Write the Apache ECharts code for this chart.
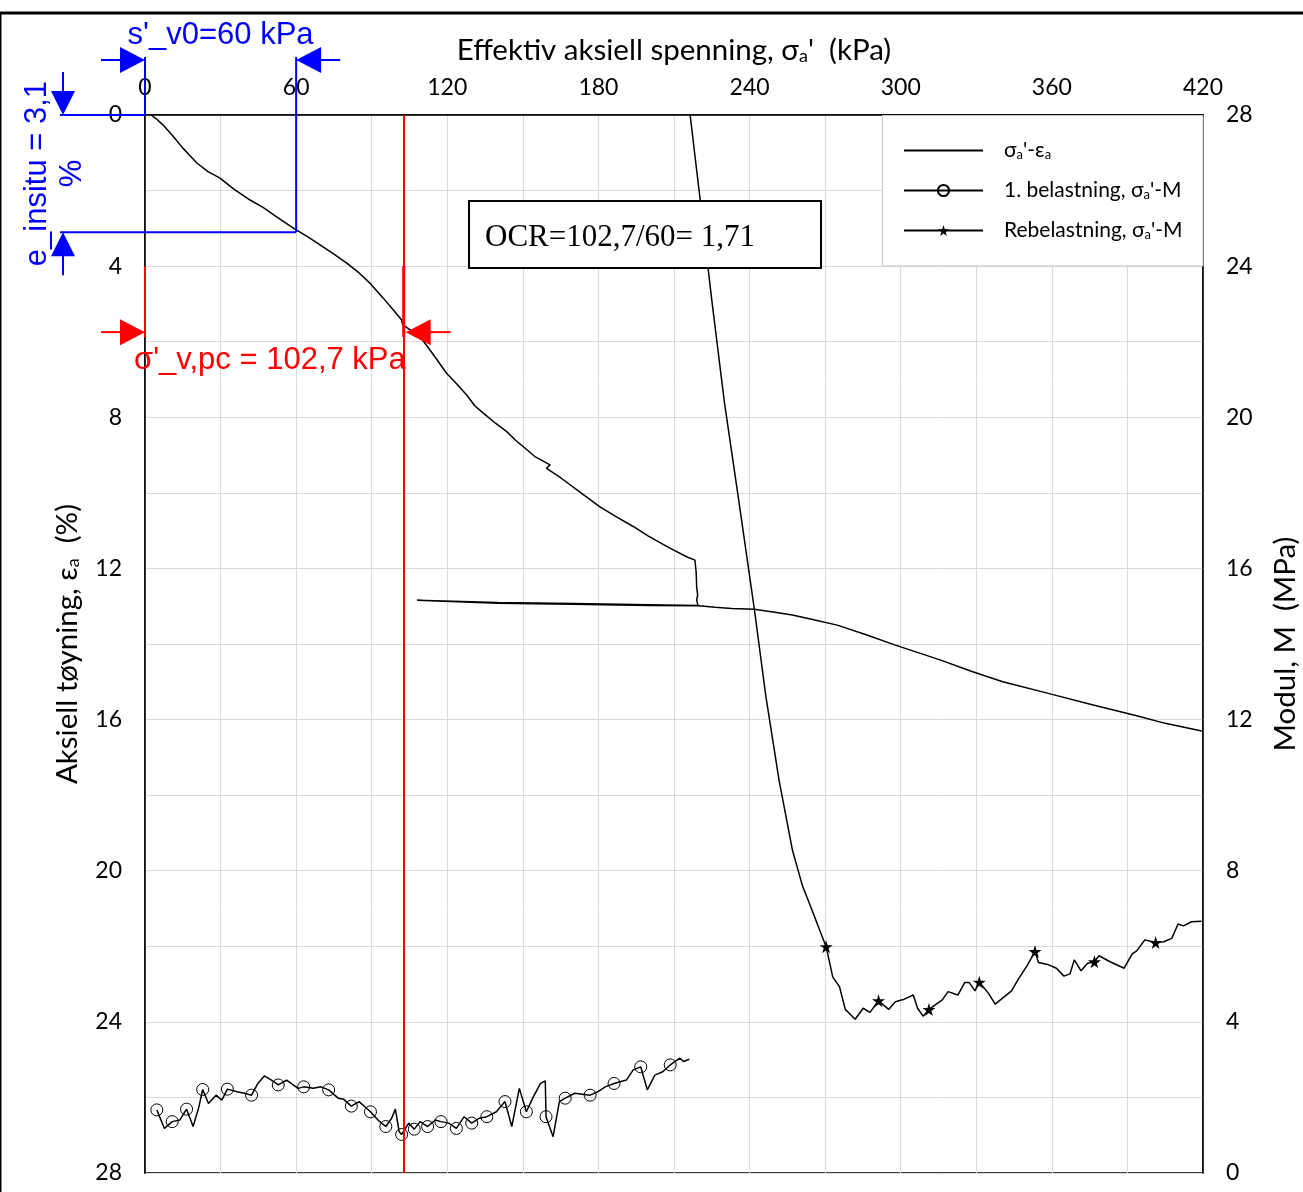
<!DOCTYPE html>
<html>
<head>
<meta charset="utf-8">
<script src="https://cdn.jsdelivr.net/npm/echarts@6/dist/echarts.min.js"></script>
<style>
  html, body { margin: 0; padding: 0; background: #fff; }
  #c { width: 1303px; height: 1192px; }
</style>
</head>
<body>
<div id="c"></div>
<script>
// Ødometerforsøk: effektiv aksiell spenning (kPa) mot aksiell tøyning (%)
const ssStress = [2.4, 4.5, 7.1, 11, 14.7, 17.5, 20.6, 25, 29.8, 35,
  41.7, 47, 52.4, 59.5, 64.5, 69.5, 75, 80.1, 85, 89.3,
  94.5, 98.6, 101.8, 102.3, 105.5, 109.2, 114, 119.8, 123.5, 127.7,
  131, 134.3, 139, 143.6, 147, 150.2, 155, 160.8, 159.4, 165,
  172, 180.6, 187, 193.8, 200, 208, 215.0, 218.3, 218.8, 219.0,
  219.4, 219.0, 219.5, 200, 170, 140, 108.0, 108.5, 140, 170,
  200, 219.8, 226.3, 233, 241.9, 250, 257.0, 265, 274.8, 286,
  297.9, 315.6, 328, 340.5, 358.2, 376.0, 393.7, 405, 419.5];
const ssStrain = [0, 0.1, 0.26, 0.55, 0.85, 1.05, 1.27, 1.5, 1.67, 1.95,
  2.25, 2.45, 2.70, 3.02, 3.22, 3.44, 3.68, 3.92, 4.18, 4.45,
  4.84, 5.16, 5.42, 5.55, 5.7, 5.87, 6.3, 6.84, 7.1, 7.41,
  7.7, 7.89, 8.15, 8.38, 8.6, 8.78, 9.05, 9.26, 9.35, 9.6,
  9.95, 10.37, 10.63, 10.89, 11.15, 11.45, 11.69, 11.78, 12.1, 12.5,
  12.7, 12.83, 12.98, 12.96, 12.93, 12.9, 12.84, 12.87, 12.92, 12.95,
  12.98, 12.99, 13.03, 13.06, 13.08, 13.16, 13.23, 13.35, 13.50, 13.75,
  14.03, 14.42, 14.72, 15.0, 15.30, 15.61, 15.90, 16.1, 16.30];

// 1. belastning: modul M (MPa)
const loadStress = [4.7, 7.7, 10.8, 13.8, 16.5, 19.1, 21.4, 22.9, 25.2, 28.2,
  30.5, 32.7, 36.5, 39.5, 42.3, 44.8, 47.4, 50.2, 52.9, 56.2,
  60.8, 63.0, 66.8, 69.8, 72.9, 76.7, 78.9, 81.9, 85.0, 89.5,
  92.5, 95.6, 97.9, 99.4, 100.9, 101.9, 104.7, 106.9, 109.2, 112.2,
  115.2, 117.5, 120.6, 123.6, 126.7, 129.7, 132.7, 135.7, 139.5, 142.9,
  145.6, 148.6, 151.4, 153.9, 157.0, 158.9, 159.2, 162.0, 164.5, 166.8,
  170.6, 176.7, 179.7, 182.7, 186.2, 191.1, 193.8, 196.8, 199.4, 202.4,
  205.5, 208.5, 212.3, 213.8, 216.1];
const loadModulus = [1.67, 1.18, 1.36, 1.40, 1.69, 1.23, 1.75, 2.21, 1.84, 2.06,
  1.93, 2.22, 2.15, 2.11, 2.06, 2.37, 2.57, 2.46, 2.33, 2.46,
  2.24, 2.28, 2.24, 2.28, 2.20, 1.98, 1.95, 1.77, 1.89, 1.62,
  1.40, 1.23, 1.45, 1.69, 1.09, 1.02, 1.32, 1.16, 1.36, 1.23,
  1.40, 1.36, 1.32, 1.18, 1.49, 1.32, 1.45, 1.49, 1.62, 1.89,
  1.23, 2.24, 1.62, 1.98, 2.37, 2.44, 1.49, 0.96, 1.89, 1.98,
  2.11, 2.06, 2.15, 2.28, 2.37, 2.46, 2.73, 2.81, 2.20, 2.59,
  2.68, 2.86, 3.04, 2.95, 3.01];
const loadMarkers = [0, 2, 4, 7, 11, 14, 18, 21, 24, 27, 29, 31, 35, 37, 39, 41,
  43, 45, 47, 49, 52, 56, 59, 61, 64, 67, 71];

// Rebelastning: modul M (MPa)
const reloadStress = [216.4, 220.4, 225.0, 230, 235.7, 241.9, 246.5, 251.7, 257.0, 261,
  265.0, 268, 270.4, 273.0, 275.7, 278.0, 281.9, 285.1, 287.8, 291.2,
  295.2, 297.9, 301.4, 305.0, 306.7, 308.9, 311.2, 316.5, 318.8, 322.7,
  325.4, 327.2, 329.5, 331.2, 334.8, 337.5, 344.0, 346.7, 350.3, 353.3,
  354.7, 358.3, 361.8, 364.8, 367.2, 368.9, 371.6, 374.2, 376.9, 378.7,
  383.1, 388.7, 391.9, 393.7, 396.9, 401.2, 404.4, 407.6, 410.1, 412.3,
  415.4, 419.4];
const reloadModulus = [28, 25.75, 23.1, 20.4, 17.8, 14.92, 12.6, 10.4, 8.55, 7.6,
  6.92, 6.4, 5.99, 5.19, 4.93, 4.33, 4.07, 4.36, 4.25, 4.56,
  4.33, 4.53, 4.60, 4.71, 4.36, 4.15, 4.33, 4.58, 4.80, 4.71,
  5.04, 5.04, 4.82, 5.05, 4.76, 4.47, 4.82, 5.13, 5.50, 5.86,
  5.57, 5.52, 5.42, 5.21, 5.27, 5.64, 5.35, 5.55, 5.59, 5.75,
  5.59, 5.42, 5.80, 5.88, 6.17, 6.10, 6.12, 6.21, 6.59, 6.54,
  6.65, 6.66];
const reloadMarkers = [12, 19, 26, 33, 39, 48, 55];

// Aksemerker
const stressTicks = [0, 60, 120, 180, 240, 300, 360, 420];
const strainTicks = [0, 4, 8, 12, 16, 20, 24, 28];
const modulusTicks = [0, 4, 8, 12, 16, 20, 24, 28];

// Tolkning
const sigmaV0 = 60;       // kPa
const sigmaPc = 102.7;    // kPa
const epsInsitu = 3.1;    // %

const nameSS = "σa'-εa";
const nameLoad = "1. belastning, σa'-M";
const nameReload = "Rebelastning, σa'-M";
const legendRich = {};
legendRich[nameSS] = "σ{s|a}'-ε{s|a}";
legendRich[nameLoad] = "1. belastning, σ{s|a}'-M";
legendRich[nameReload] = "Rebelastning, σ{s|a}'-M";

const comma = v => String(v).replace('.', ',');
const FONT = 'Lato';
const STAR = 'path://M50,0 L61,35 L98,35 L68,57 L79,91 L50,70 L21,91 L32,57 L2,35 L39,35 Z';

function withMarkers(xs, ys, marks, symbol) {
  return xs.map((x, i) => marks.includes(i)
    ? { value: [x, ys[i]], symbol: symbol }
    : { value: [x, ys[i]], symbol: 'none' });
}

const subStyle = (size, pad) => ({ fontFamily: FONT, fontSize: size, lineHeight: size, padding: [pad, 0, 0, 0], verticalAlign: 'bottom', color: '#000' });

const chart = echarts.init(document.getElementById('c'));
chart.setOption({
  animation: false,
  backgroundColor: '#fff',
  grid: { left: 145, top: 115, width: 1058, height: 1058, outerBoundsMode: 'none', containLabel: false,
    show: true, borderColor: '#000', borderWidth: 1.5, backgroundColor: 'transparent' },
  xAxis: {
    type: 'value', position: 'top', min: 0, max: 420, interval: 30,
    name: "Effektiv aksiell spenning, σ{s|a}'  (kPa)",
    nameLocation: 'middle', nameGap: 50,
    nameTextStyle: { fontFamily: FONT, fontSize: 29.5, color: '#000', rich: { s: subStyle(18, 20) } },
    axisLine: { show: true, lineStyle: { color: '#000', width: 1.5 } },
    axisTick: { show: false },
    axisLabel: { fontFamily: FONT, fontSize: 23, color: '#000', margin: 16,
      formatter: v => stressTicks.includes(v) ? String(v) : '' },
    splitLine: { show: true, lineStyle: { color: '#d9d9d9', width: 1 } }
  },
  yAxis: [{
    type: 'value', position: 'left', inverse: true, min: 0, max: 28, interval: 2,
    name: "Aksiell tøyning, ε{s|a}  (%)",
    nameLocation: 'middle', nameGap: 63,
    nameTextStyle: { fontFamily: FONT, fontSize: 29.5, color: '#000', rich: { s: subStyle(18, 20) } },
    axisLine: { show: true, lineStyle: { color: '#000', width: 1.5 } },
    axisTick: { show: false },
    axisLabel: { fontFamily: FONT, fontSize: 23, color: '#000', margin: 23,
      formatter: v => strainTicks.includes(v) ? String(v) : '' },
    splitLine: { show: true, lineStyle: { color: '#d9d9d9', width: 1 } }
  }, {
    type: 'value', position: 'right', min: 0, max: 28, interval: 4,
    name: 'Modul, M  (MPa)',
    nameLocation: 'middle', nameGap: 67,
    nameTextStyle: { fontFamily: FONT, fontSize: 29.5, color: '#000' },
    axisLine: { show: true, lineStyle: { color: '#000', width: 1.5 } },
    axisTick: { show: false },
    axisLabel: { fontFamily: FONT, fontSize: 23, color: '#000', margin: 23,
      formatter: v => modulusTicks.includes(v) ? String(v) : '' },
    splitLine: { show: false }
  }],
  legend: {
    orient: 'vertical', left: 903, top: 134, padding: 0,
    itemWidth: 79, itemHeight: 14, itemGap: 13,
    data: [
      { name: nameSS, itemStyle: { color: 'rgba(0,0,0,0)', borderWidth: 0, opacity: 0 } },
      { name: nameLoad },
      { name: nameReload }
    ],
    formatter: name => legendRich[name],
    textStyle: { fontFamily: FONT, fontSize: 21, color: '#000', padding: [0, 0, 0, 16],
      rich: { s: subStyle(13, 14) } }
  },
  series: [{
    name: nameSS, type: 'line', xAxisIndex: 0, yAxisIndex: 0,
    data: ssStress.map((x, i) => [x, ssStrain[i]]),
    symbol: 'none', lineStyle: { color: '#000', width: 1.5 }, itemStyle: { color: '#000' },
    z: 3,
    markLine: {
      silent: true, symbol: 'none', label: { show: false },
      lineStyle: { color: '#ff0000', width: 2, type: 'solid' },
      data: [{ xAxis: sigmaPc }]
    }
  }, {
    name: nameLoad, type: 'line', xAxisIndex: 0, yAxisIndex: 1,
    data: withMarkers(loadStress, loadModulus, loadMarkers, 'circle'),
    symbol: 'circle', symbolSize: 12,
    lineStyle: { color: '#000', width: 1.5 },
    itemStyle: { color: 'rgba(0,0,0,0)', borderColor: '#000', borderWidth: 1 }
  }, {
    name: nameReload, type: 'line', xAxisIndex: 0, yAxisIndex: 1,
    data: withMarkers(reloadStress, reloadModulus, reloadMarkers, STAR),
    symbol: STAR, symbolSize: 13,
    lineStyle: { color: '#000', width: 1.5 },
    itemStyle: { color: '#000' }
  }]
});

// Tolkningslinjer og piler, plassert fra aksenes egne skalaer
const px = (x, y) => chart.convertToPixel({ xAxisIndex: 0, yAxisIndex: 0 }, [x, y]);
const [x0, yTop] = px(0, 0);
const [xV0, yE] = px(sigmaV0, epsInsitu);
const [xPc, y4] = px(sigmaPc, 4);

const BLUE = '#0000ff', RED = '#ff0000';
const seg = (x1, y1, x2, y2, color, w) => ({ type: 'line', z: 10, shape: { x1, y1, x2, y2 }, style: { stroke: color, lineWidth: w } });
const tri = (pts, color) => ({ type: 'polygon', z: 10, shape: { points: pts }, style: { fill: color } });
const arrowH = (tipX, y, dir, len, color) => [ // dir = +1 peker mot høyre, -1 mot venstre
  seg(tipX - dir * len, y, tipX - dir * 20, y, color, 2),
  tri([[tipX, y], [tipX - dir * 25, y - 13], [tipX - dir * 25, y + 13]], color)
];
const arrowV = (x, tipY, dir, len, color) => [ // dir = +1 peker ned, -1 opp
  seg(x, tipY - dir * len, x, tipY - dir * 20, color, 2),
  tri([[x, tipY], [x - 12, tipY - dir * 24], [x + 12, tipY - dir * 24]], color)
];

const ocr = Math.round(sigmaPc / sigmaV0 * 100) / 100;
const yArrowTop = yTop - 55;
const xArrowV = x0 - 82;
const yPcArrow = y4 + 66;

const graphics = [
  // ramme
  { type: 'rect', z: 10, shape: { x: 0, y: 13, width: 1310, height: 1200 }, style: { fill: 'none', stroke: '#000', lineWidth: 3 } },
  // tegnforklaringsboks
  { type: 'rect', z: 1, shape: { x: 882.5, y: 115.5, width: 320.5, height: 150.5 }, style: { fill: '#fff', stroke: '#c8c8c8', lineWidth: 1 } },
  // OCR-boks
  { type: 'rect', z: 10, shape: { x: 469, y: 201, width: 352, height: 67 }, style: { fill: '#fff', stroke: '#000', lineWidth: 2 } },
  { type: 'text', z: 11, x: 485, y: 238, style: { text: 'OCR=' + comma(sigmaPc) + '/' + sigmaV0 + '= ' + comma(ocr.toFixed(2)),
    font: '31px "Liberation Serif"', fill: '#000', align: 'left', verticalAlign: 'middle' } },

  // σ'v0 (blå)
  seg(x0, yTop - 58, x0, yTop, BLUE, 2),
  seg(xV0, yTop - 58, xV0, yE, BLUE, 2),
  seg(x0 - 85, yTop, x0, yTop, BLUE, 2),
  seg(x0 - 85, yE, xV0, yE, BLUE, 2),
  ...arrowH(x0, yArrowTop, 1, 44, BLUE),
  ...arrowH(xV0, yArrowTop, -1, 44, BLUE),
  ...arrowV(xArrowV, yTop, 1, 43, BLUE),
  ...arrowV(xArrowV, yE, -1, 43, BLUE),
  { type: 'text', z: 11, x: (x0 + xV0) / 2, y: yTop - 80, style: { text: "s'_v0=" + sigmaV0 + ' kPa',
    font: '31px "Liberation Sans"', fill: BLUE, align: 'center', verticalAlign: 'middle' } },
  { type: 'text', z: 11, x: x0 - 90, y: (yTop + yE) / 2, rotation: Math.PI / 2, style: { text: 'e_insitu = ' + comma(epsInsitu) + '\n%',
    font: '31px "Liberation Sans"', lineHeight: 35, fill: BLUE, align: 'center', verticalAlign: 'middle' } },

  // σ'pc (rød)
  seg(x0, y4, x0, y4 + 71, RED, 2),
  seg(xPc, y4, xPc, y4 + 71, RED, 3),
  ...arrowH(x0, yPcArrow, 1, 44, RED),
  ...arrowH(xPc + 2, yPcArrow, -1, 45, RED),
  { type: 'text', z: 11, x: x0 - 11, y: yPcArrow + 28, style: { text: "σ'_v,pc = " + comma(sigmaPc) + ' kPa',
    font: '31px "Liberation Sans"', fill: RED, align: 'left', verticalAlign: 'middle' } }
];
chart.setOption({ graphic: { elements: graphics } });
</script>
</body>
</html>
